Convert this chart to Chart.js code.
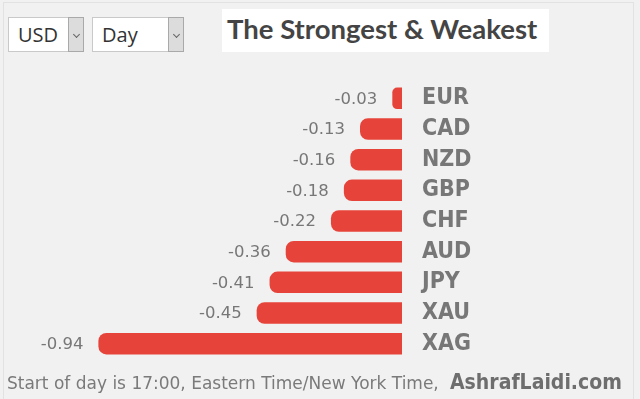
<!DOCTYPE html>
<html>
<head>
<meta charset="utf-8">
<script src="https://cdn.jsdelivr.net/npm/chart.js@4"></script>
<style>
  html, body { margin: 0; padding: 0; }
  body { width: 640px; height: 399px; background: #f1f1f1; position: relative; overflow: hidden; font-family: "DejaVu Sans", sans-serif; }
  .frame { position: absolute; left: 3px; top: 2px; width: 631px; height: 400px; border: 1px solid #e2e2e2; box-sizing: border-box; }
  .sel { position: absolute; top: 17px; height: 35px; background: #fff; border: 1px solid #c9c9c9; box-sizing: border-box;
         font-family: "Open Sans", sans-serif; font-size: 20px; color: #333; line-height: 33px; padding-left: 9px; }
  .sel .arr { position: absolute; right: -1px; top: -1px; width: 16px; height: 35px; background: #dcdcdc; border: 1px solid #a9a9a9; box-sizing: border-box; }
  .sel .arr::after { content: ""; position: absolute; left: 5px; top: 14px; width: 4px; height: 4px; border-right: 1px solid #666; border-bottom: 1px solid #666; transform: rotate(45deg); }
  .title { position: absolute; left: 222px; top: 9px; width: 327px; height: 43px; background: #fff;
           font-family: Lato, sans-serif; font-weight: 700; font-size: 27.5px; color: #444; line-height: 40px; padding-left: 5px; box-sizing: border-box; white-space: nowrap; }
  #wrap { position: absolute; left: 0; top: 0; width: 640px; height: 399px; }
  .foot { position: absolute; left: 7px; top: 373px; font-size: 17px; color: #7a7a7a; white-space: nowrap; }
  .brand { position: absolute; left: 450px; top: 370px; font-family: "DejaVu Sans Condensed", "DejaVu Sans", sans-serif; font-stretch: condensed;
           font-size: 21px; font-weight: bold; color: #6e6e6e; white-space: nowrap; }
</style>
</head>
<body>
<div class="frame"></div>
<div class="sel" style="left:8px;width:76px;">USD<span class="arr"></span></div>
<div class="sel" style="left:92px;width:92px;">Day<span class="arr"></span></div>
<div class="title">The Strongest &amp; Weakest</div>
<div id="wrap"><canvas id="chart"></canvas></div>
<div class="foot">Start of day is 17:00, Eastern Time/New York Time,</div>
<div class="brand">AshrafLaidi.com</div>
<script>
const currencies = ['EUR', 'CAD', 'NZD', 'GBP', 'CHF', 'AUD', 'JPY', 'XAU', 'XAG'];
const changes = [-0.03, -0.13, -0.16, -0.18, -0.22, -0.36, -0.41, -0.45, -0.94];

// value text to the left of each bar
const valueLabels = {
  id: 'valueLabels',
  afterDatasetsDraw(chart) {
    const ctx = chart.ctx;
    const meta = chart.getDatasetMeta(0);
    ctx.save();
    ctx.font = '16.5px "DejaVu Sans"';
    ctx.fillStyle = '#777';
    ctx.textAlign = 'right';
    ctx.textBaseline = 'middle';
    meta.data.forEach((bar, i) => {
      ctx.fillText(changes[i].toFixed(2), bar.x - 15, bar.y + 1);
    });
    ctx.restore();
  },
};

new Chart(document.getElementById('chart'), {
  type: 'bar',
  data: {
    labels: currencies,
    datasets: [{
      data: changes,
      backgroundColor: '#e6443a',
      borderRadius: 8,
      barPercentage: 0.7,
      categoryPercentage: 1,
    }],
  },
  options: {
    indexAxis: 'y',
    responsive: true,
    maintainAspectRatio: false,
    animation: false,
    layout: { padding: { left: 79, top: 83, bottom: 40, right: 0 } },
    plugins: { legend: { display: false }, tooltip: { enabled: false } },
    scales: {
      x: { min: -1, max: 0, display: false },
      y: {
        position: 'right',
        grid: { display: false },
        border: { display: false },
        ticks: {
          color: '#777',
          padding: 12,
          font: { family: '"DejaVu Sans Condensed", "DejaVu Sans"', size: 23, weight: 'bold' },
        },
        afterFit(scale) { scale.width = 238; },
      },
    },
  },
  plugins: [valueLabels],
});
</script>
</body>
</html>
